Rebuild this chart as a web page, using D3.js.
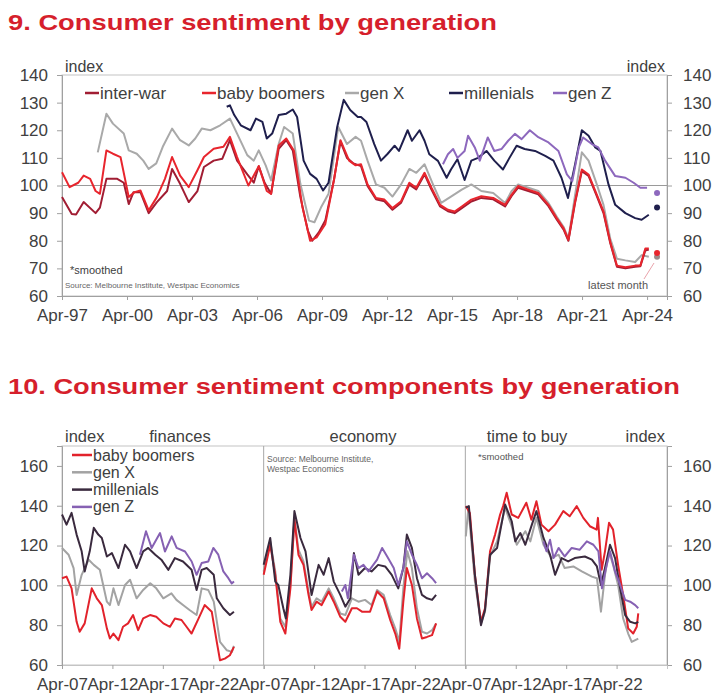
<!DOCTYPE html>
<html>
  <head>
    <meta charset="utf-8">
    <title>Consumer sentiment by generation</title>
    <script src="https://cdn.jsdelivr.net/npm/d3@7"></script>
    <style>
      body { margin: 0; background: #fff; }
      text { font-family: "Liberation Sans", Arial, sans-serif; fill: #404040; }
    </style>
  </head>
  <body>
    <svg width="720" height="697" id="mainsvg"></svg>
    <script>
      // ---------- chart 9: consumer sentiment by generation ----------
      // points are [decimal year, index]
      const topNames = ["inter-war", "baby boomers", "gen X", "millenials", "gen Z"];
      const topTickYears = [1997.25, 2000.25, 2003.25, 2006.25, 2009.25, 2012.25, 2015.25, 2018.25, 2021.25, 2024.25];
      const topTickLabels = ["Apr-97", "Apr-00", "Apr-03", "Apr-06", "Apr-09", "Apr-12", "Apr-15", "Apr-18", "Apr-21", "Apr-24"];
      const topYTicks = [60, 70, 80, 90, 100, 110, 120, 130, 140];

      const interWar = [
        [1997.25, 95.8], [1997.7, 89.7], [1997.9, 89.5], [1998.25, 94], [1998.8, 90], [1999.0, 92], [1999.3, 102.4],
        [1999.8, 102.4], [2000.1, 101], [2000.33, 93.3], [2000.55, 97.6], [2000.87, 97.6], [2001.25, 90], [2001.63, 94],
        [2002.1, 98], [2002.33, 106], [2002.7, 100.6], [2003.1, 94], [2003.5, 98], [2003.8, 106.7], [2004.25, 109],
        [2004.65, 109.7], [2005.0, 116.4], [2005.33, 109], [2005.8, 104], [2006.1, 101], [2006.33, 107], [2006.6, 101],
        [2006.9, 97], [2007.25, 113.3], [2007.6, 116.4], [2007.9, 112.7], [2008.25, 95.8], [2008.6, 83.6], [2008.8, 80],
        [2009.1, 83], [2009.4, 87.3], [2009.8, 102], [2010.1, 116], [2010.4, 110], [2010.7, 108], [2011.05, 107],
        [2011.35, 99.8], [2011.74, 95], [2012.13, 94.3], [2012.5, 91.2], [2012.9, 93.8], [2013.28, 100.3], [2013.6, 98.6],
        [2013.98, 104], [2014.3, 98.5], [2014.7, 92.4], [2015.06, 90.7], [2015.37, 90], [2015.7, 91.8], [2016.14, 94.2],
        [2016.6, 95.5], [2017.15, 95], [2017.7, 92.4], [2018.0, 96.2], [2018.3, 99.2], [2018.77, 98], [2019.23, 96.8],
        [2019.7, 92.5], [2020.08, 87.7], [2020.4, 84], [2020.62, 80], [2020.93, 93.8], [2021.24, 105.2], [2021.55, 103.5],
        [2021.93, 96.2], [2022.24, 90], [2022.55, 79.2], [2022.86, 70.6], [2023.25, 70], [2023.7, 70.6], [2023.94, 70.8],
        [2024.17, 76.5], [2024.33, 76.8]
      ];
      const babyBoomers = [
        [1997.25, 104.8], [1997.6, 99.4], [1998.0, 101], [1998.25, 103.6], [1998.55, 102.4], [1998.8, 98], [1999.0, 97],
        [1999.3, 112.7], [1999.6, 111.5], [1999.95, 110.3], [2000.33, 95.8], [2000.6, 97.6], [2000.87, 98.2], [2001.25, 91],
        [2001.63, 95.8], [2002.0, 102.4], [2002.33, 110.3], [2002.7, 103.6], [2003.1, 99.4], [2003.5, 105.5], [2003.8, 110.3],
        [2004.25, 113.3], [2004.7, 114], [2005.0, 117.6], [2005.33, 110.3], [2005.85, 100], [2006.33, 107], [2006.7, 98],
        [2006.9, 97], [2007.25, 114.5], [2007.6, 117], [2007.95, 112.7], [2008.35, 92], [2008.7, 80], [2009.0, 81.2],
        [2009.4, 86], [2009.8, 102], [2010.1, 116.4], [2010.5, 109], [2010.8, 107.3], [2011.05, 107.7], [2011.35, 100.4],
        [2011.74, 95.5], [2012.13, 94.9], [2012.5, 91.8], [2012.9, 94.3], [2013.28, 101], [2013.6, 99.2], [2013.98, 104.6],
        [2014.3, 99.2], [2014.7, 93], [2015.06, 91.2], [2015.37, 90.6], [2015.7, 92.4], [2016.14, 94.9], [2016.6, 96.1],
        [2017.15, 95.5], [2017.7, 93], [2018.0, 96.7], [2018.3, 99.8], [2018.77, 98.5], [2019.23, 97.3], [2019.7, 93],
        [2020.08, 88.2], [2020.4, 84.5], [2020.62, 80.3], [2020.93, 94.3], [2021.24, 105.8], [2021.55, 104], [2021.93, 96.7],
        [2022.24, 90.6], [2022.55, 79.6], [2022.86, 71], [2023.25, 70.4], [2023.7, 71], [2023.94, 71], [2024.17, 77.2],
        [2024.33, 77.2]
      ];
      const genX = [
        [1998.9, 112], [1999.3, 126], [1999.6, 122.4], [2000.1, 118.8], [2000.33, 112.7], [2000.7, 111.5], [2001.0, 109],
        [2001.25, 106], [2001.6, 108], [2001.9, 114], [2002.33, 120.6], [2002.7, 116.4], [2003.1, 114.5], [2003.4, 117],
        [2003.7, 120.6], [2004.1, 120], [2004.55, 121.8], [2005.0, 124.2], [2005.33, 118.8], [2005.8, 111], [2006.1, 109],
        [2006.33, 112.7], [2006.65, 107.3], [2006.9, 101.8], [2007.25, 115], [2007.5, 121.2], [2007.9, 118.8], [2008.25, 100.6],
        [2008.65, 87.3], [2008.9, 86.7], [2009.2, 92], [2009.55, 97], [2010.0, 121.2], [2010.4, 115], [2010.8, 117.6],
        [2011.05, 116.2], [2011.35, 109], [2011.74, 100.4], [2012.13, 99.2], [2012.5, 96], [2012.9, 100.4], [2013.28, 106],
        [2013.6, 104.6], [2013.98, 107.7], [2014.37, 100.4], [2014.75, 93.7], [2015.2, 96], [2015.7, 98.5], [2016.14, 100.4],
        [2016.6, 98], [2017.15, 97.3], [2017.7, 93.7], [2018.0, 98], [2018.3, 100.4], [2018.77, 99.2], [2019.23, 98],
        [2019.7, 93.7], [2020.08, 88.8], [2020.4, 85], [2020.62, 80.8], [2020.93, 96.7], [2021.24, 112], [2021.55, 109],
        [2021.93, 100.4], [2022.24, 93], [2022.55, 80.8], [2022.86, 73.5], [2023.25, 72.9], [2023.7, 72.3], [2024.0, 74.8],
        [2024.33, 74.2]
      ];
      const millenials = [
        [2004.85, 128.5], [2005.0, 129], [2005.2, 125.5], [2005.5, 121.8], [2005.95, 120], [2006.2, 124.2], [2006.5, 123],
        [2006.7, 117], [2006.95, 118.8], [2007.25, 125.5], [2007.6, 126], [2007.9, 127.5], [2008.1, 124.8], [2008.4, 109],
        [2008.7, 104.2], [2009.0, 102.4], [2009.3, 98.2], [2009.55, 101], [2009.95, 121.2], [2010.25, 131], [2010.55, 127.3],
        [2010.9, 124.8], [2011.05, 124.8], [2011.3, 123], [2011.66, 115], [2011.97, 109], [2012.28, 111.5], [2012.6, 114.4],
        [2012.8, 112.5], [2013.2, 120], [2013.4, 116.2], [2013.75, 120], [2013.98, 116.2], [2014.2, 111.3], [2014.6, 108.9],
        [2015.0, 102.8], [2015.2, 105.8], [2015.5, 109.5], [2015.83, 102], [2016.14, 109], [2016.45, 110], [2016.84, 112.5],
        [2017.2, 109], [2017.6, 105.8], [2017.9, 110], [2018.23, 114.4], [2018.6, 113.2], [2019.08, 112.5], [2019.55, 110.7],
        [2019.93, 109], [2020.3, 102.8], [2020.6, 95.5], [2020.93, 107.7], [2021.24, 120], [2021.55, 118], [2021.86, 113.8],
        [2022.1, 112.5], [2022.47, 100.4], [2022.78, 93], [2023.25, 90], [2023.7, 88.2], [2024.0, 87.6], [2024.33, 89.4]
      ];
      const genZ = [
        [2014.83, 107.7], [2015.06, 111.3], [2015.3, 113.2], [2015.5, 110], [2015.83, 112.5], [2015.99, 118], [2016.3, 113.8],
        [2016.53, 109], [2016.9, 117.4], [2017.2, 112.5], [2017.53, 113.2], [2017.84, 116.2], [2018.15, 118.7], [2018.46, 116.8],
        [2018.84, 120], [2019.23, 117.5], [2019.7, 115.6], [2020.16, 112.5], [2020.55, 104], [2020.8, 101.6], [2021.1, 113.8],
        [2021.3, 117.4], [2021.7, 115], [2022.0, 113.8], [2022.32, 108.9], [2022.78, 103.4], [2023.25, 102.8], [2023.63, 101],
        [2023.94, 99.2], [2024.25, 99.2]
      ];
      // latest month (unsmoothed) dots
      const latestYear = 2024.71;
      const latestNames = ["gen X", "baby boomers", "millenials", "gen Z"];
      const latestValues = [74.2, 75.6, 92, 97.3];

      // ---------- chart 10: components by generation ----------
      const panelNames = ["finances", "economy", "time to buy"];
      const botNames = ["baby boomers", "gen X", "millenials", "gen Z"];
      const botTickYears = [2007.25, 2012.25, 2017.25, 2022.25];
      const botTickLabels = ["Apr-07", "Apr-12", "Apr-17", "Apr-22"];
      const botYTicks = [60, 80, 100, 120, 140, 160];

      const finBB = [
        [2007.25, 103.6], [2007.7, 104.4], [2008.2, 98.5], [2008.7, 81.7], [2009.0, 76.7], [2009.5, 80.9], [2010.2, 98.5],
        [2010.7, 93.5], [2011.2, 90.1], [2011.7, 78.4], [2012.0, 73.3], [2012.35, 75.8], [2012.85, 72.5], [2013.3, 79.2],
        [2013.8, 80.9], [2014.3, 85.1], [2014.8, 77.5], [2015.3, 83.4], [2015.98, 85.1], [2016.6, 84.2], [2017.3, 80.9],
        [2017.96, 79.2], [2018.45, 83.4], [2019.1, 82.6], [2019.6, 79.2], [2020.1, 75.8], [2020.8, 83.4], [2021.4, 90.1],
        [2022.1, 86.8], [2022.6, 71.6], [2022.92, 62.4], [2023.4, 63.2], [2023.9, 64.9], [2024.3, 69.1]
      ];
      const finGX = [
        [2007.25, 118.8], [2007.9, 115.4], [2008.4, 108.7], [2008.7, 95.2], [2009.2, 105.3], [2009.9, 112.9], [2010.4, 110.3],
        [2011.0, 107.8], [2011.7, 91.8], [2012.0, 90.1], [2012.35, 98.5], [2012.85, 90.1], [2013.5, 100.2], [2014.0, 102.8],
        [2014.65, 93.5], [2015.3, 97.7], [2016.0, 101.1], [2016.6, 98.5], [2017.3, 93.5], [2018.1, 96], [2018.6, 92.7],
        [2019.25, 90.1], [2019.9, 87.6], [2020.6, 85.1], [2021.1, 98.5], [2021.75, 97.7], [2022.3, 91.8], [2022.92, 71.6],
        [2023.6, 67.4], [2024.1, 66.6], [2024.3, 69.6]
      ];
      const finMil = [
        [2007.25, 135.6], [2007.7, 130.5], [2008.2, 136.4], [2008.7, 125.5], [2009.2, 117.1], [2009.5, 107], [2010.0, 117.1],
        [2010.4, 128.9], [2010.85, 125.5], [2011.2, 123.8], [2011.7, 114.5], [2012.2, 116.2], [2012.85, 108.7], [2013.5, 120.4],
        [2014.0, 117.1], [2014.65, 108.7], [2015.3, 117.1], [2015.8, 118.8], [2016.5, 115.4], [2017.1, 112.9], [2017.8, 107.8],
        [2018.45, 113.7], [2019.25, 112], [2020.1, 107.8], [2020.6, 97.7], [2021.1, 107.8], [2021.6, 108.7], [2022.3, 105.3],
        [2022.6, 93.5], [2023.25, 88.5], [2023.9, 85.1], [2024.3, 86.8]
      ];
      const finGZ = [
        [2014.98, 115.4], [2015.58, 127.2], [2016.14, 118.8], [2016.97, 126.3], [2017.46, 117], [2018.13, 124.6],
        [2018.62, 118.8], [2019.45, 117], [2020.11, 112], [2020.6, 105.3], [2021.1, 111.2], [2021.76, 112], [2022.26, 118.8],
        [2022.75, 115.4], [2023.25, 107], [2023.75, 103.6], [2024.08, 101], [2024.31, 101.9]
      ];
      const ecoBB = [
        [2007.25, 105.3], [2007.9, 120.4], [2008.4, 105.3], [2008.9, 81.7], [2009.4, 75.8], [2009.9, 98.5], [2010.3, 133],
        [2010.7, 115.4], [2011.2, 110.3], [2011.7, 95.2], [2012.0, 87.6], [2012.5, 91.8], [2013.0, 90.1], [2013.7, 96.9],
        [2014.2, 91.8], [2014.85, 84.2], [2015.35, 81.7], [2016.0, 88.5], [2016.5, 88.5], [2017.0, 86.8], [2017.8, 86.8],
        [2018.5, 96.9], [2019.15, 93.5], [2019.8, 82.6], [2020.3, 75.8], [2020.7, 68.2], [2021.1, 91.8], [2021.45, 108.7],
        [2021.95, 100.2], [2022.45, 83.4], [2022.95, 73.3], [2023.45, 74.1], [2023.95, 75], [2024.35, 80.9]
      ];
      const ecoGX = [
        [2007.25, 107], [2007.9, 122.1], [2008.4, 107], [2008.9, 83.4], [2009.4, 79.2], [2009.9, 100.2], [2010.3, 133.9],
        [2010.7, 117.9], [2011.2, 112], [2011.7, 96.9], [2012.0, 89.3], [2012.5, 93.5], [2013.0, 91.8], [2013.7, 98.5],
        [2014.2, 93.5], [2014.85, 85.9], [2015.35, 85.1], [2016.0, 93.5], [2016.65, 91.8], [2017.3, 92.7], [2017.95, 90.1],
        [2018.5, 97.7], [2019.15, 95.2], [2019.8, 85.1], [2020.3, 78.4], [2020.7, 71.6], [2021.1, 98.5], [2021.5, 117.1],
        [2021.95, 108.7], [2022.45, 88.5], [2022.95, 76.7], [2023.45, 75.8], [2023.95, 77.5], [2024.35, 80.9]
      ];
      const ecoMil = [
        [2007.25, 110.3], [2007.9, 123.8], [2008.4, 101.9], [2008.7, 100.2], [2009.2, 88.5], [2009.45, 83.4], [2009.9, 105.3],
        [2010.3, 137.3], [2010.9, 123.8], [2011.4, 117.1], [2012.0, 95.2], [2012.7, 110.3], [2013.2, 105.3], [2013.7, 113.7],
        [2014.2, 101.9], [2014.85, 95.2], [2015.35, 89.3], [2015.85, 93.5], [2016.2, 116.2], [2016.65, 105.3], [2017.3, 108.7],
        [2017.95, 107], [2018.6, 110.3], [2019.3, 109.5], [2019.95, 105.3], [2020.6, 98.5], [2021.1, 108.7], [2021.45, 125.5],
        [2021.95, 118.8], [2022.45, 103.6], [2022.95, 95.2], [2023.45, 93.5], [2023.95, 92.7], [2024.35, 95.2]
      ];
      const ecoGZ = [
        [2015.0, 96.9], [2015.35, 100.2], [2015.6, 93.5], [2016.2, 115.4], [2016.65, 108.7], [2017.15, 110.3], [2017.65, 107],
        [2018.5, 112.9], [2019.0, 118.8], [2019.5, 114.5], [2020.15, 108.7], [2020.6, 100.2], [2021.1, 108.7], [2021.45, 122.1],
        [2021.95, 115.4], [2022.45, 110.3], [2022.95, 103.6], [2023.45, 106.1], [2023.95, 103.6], [2024.35, 101.1]
      ];
      const buyBB = [
        [2007.3, 139.8], [2007.7, 136.4], [2008.2, 105.3], [2008.8, 81.7], [2009.2, 88.5], [2009.7, 117.1], [2010.2, 125.5],
        [2010.7, 135.6], [2011.0, 139.8], [2011.35, 146.5], [2011.85, 135.6], [2012.5, 133.9], [2013.3, 141.5], [2013.8, 133],
        [2014.3, 142.3], [2014.8, 130.5], [2015.5, 127.2], [2016.15, 130.5], [2016.97, 137.3], [2017.6, 134.7], [2018.3, 139.8],
        [2018.95, 133.9], [2019.6, 129.7], [2020.27, 128], [2020.4, 133.9], [2020.77, 107.8], [2021.1, 117.1], [2021.5, 131.4],
        [2021.9, 128], [2022.4, 110.3], [2022.9, 95.2], [2023.4, 78.4], [2023.9, 75.8], [2024.25, 79.2], [2024.4, 85.9]
      ];
      const buyGX = [
        [2007.3, 124.6], [2007.55, 139], [2008.2, 101.9], [2008.8, 80.9], [2009.2, 86.8], [2009.7, 114.5], [2010.4, 122.1],
        [2011.2, 139], [2011.85, 129.7], [2012.35, 120.4], [2013.2, 127.2], [2013.7, 122.1], [2014.3, 133.9], [2015.0, 120.4],
        [2015.8, 113.7], [2016.5, 115.4], [2017.1, 108.7], [2017.96, 109.5], [2018.8, 107], [2019.8, 104.4], [2020.3, 103.6],
        [2020.7, 86.8], [2021.1, 105.3], [2021.5, 117.1], [2021.9, 110.3], [2022.4, 100.2], [2022.9, 83.4], [2023.4, 75.8],
        [2023.75, 71.6], [2024.1, 72.5], [2024.4, 73.3]
      ];
      const buyMil = [
        [2007.3, 139], [2007.6, 139.8], [2008.2, 105.3], [2008.8, 80], [2009.2, 87.6], [2009.7, 115.4], [2010.4, 118.8],
        [2011.2, 140.6], [2011.85, 132.2], [2012.2, 122.1], [2012.7, 126.3], [2013.2, 120.4], [2013.85, 130.5], [2014.3, 137.3],
        [2015.0, 123.8], [2015.65, 115.4], [2016.15, 105.3], [2016.8, 113.7], [2017.45, 112], [2018.1, 113.7], [2019.1, 114.5],
        [2019.8, 112.9], [2020.3, 109.5], [2020.7, 100.2], [2021.1, 108.7], [2021.6, 120.4], [2022.1, 113.7], [2022.6, 98.5],
        [2023.1, 85.1], [2023.6, 81.7], [2024.1, 80.9], [2024.4, 81.7]
      ];
      const buyGZ = [
        [2015.0, 122.1], [2015.3, 117.1], [2015.65, 122.9], [2016.0, 113.7], [2016.5, 118.8], [2017.1, 114.5], [2017.8, 118.8],
        [2018.6, 117.9], [2019.3, 122.1], [2019.95, 120.4], [2020.45, 117.1], [2020.8, 98.5], [2021.2, 108.7], [2021.6, 117.1],
        [2022.1, 107], [2022.6, 100.2], [2023.1, 92.7], [2023.6, 91.8], [2024.1, 90.1], [2024.4, 88.5]
      ];

      const topColors = { "inter-war": "#a11d33", "baby boomers": "#e8252d", "gen X": "#a9a9a9", "millenials": "#1f1f4d", "gen Z": "#8d68bd" };
      const botColors = { "baby boomers": "#e2222b", "gen X": "#a3a3a3", "millenials": "#3a2a3e", "gen Z": "#8661b3" };
      const axisColor = "#a0a0a0";

      const svg = d3.select("#mainsvg");
      svg.append("rect").attr("width", 720).attr("height", 697).attr("fill", "#fff");

      const line = (x, y) => d3.line().x((d) => x(d[0])).y((d) => y(d[1]));

      function styleAxis(sel) {
        sel.select(".domain").attr("stroke", axisColor);
        sel.selectAll(".tick line").attr("stroke", axisColor);
        sel.selectAll(".tick text").attr("fill", "#404040").attr("font-size", "17px")
          .attr("font-family", '"Liberation Sans", Arial, sans-serif');
      }

      // ===== titles =====
      svg.append("text").text("9. Consumer sentiment by generation")
        .attr("x", 8).attr("y", 30).attr("font-size", "22px").attr("font-weight", "bold")
        .attr("font-family", '"Open Sans", sans-serif').style("fill", "#d61f2c")
        .attr("textLength", 489).attr("lengthAdjust", "spacingAndGlyphs");
      svg.append("text").text("10. Consumer sentiment components by generation")
        .attr("x", 8).attr("y", 394).attr("font-size", "22px").attr("font-weight", "bold")
        .attr("font-family", '"Open Sans", sans-serif').style("fill", "#d61f2c")
        .attr("textLength", 672).attr("lengthAdjust", "spacingAndGlyphs");

      // ===== chart 9 =====
      const topBox = { left: 62, right: 667, top: 75, bottom: 296 };
      const xTop = d3.scaleLinear().domain([1997.25, 2025.17]).range([topBox.left, topBox.right]);
      const yTop = d3.scaleLinear().domain([60, 140]).range([topBox.bottom, topBox.top]);
      const g1 = svg.append("g");

      g1.append("rect").attr("x", topBox.left).attr("y", topBox.top)
        .attr("width", topBox.right - topBox.left).attr("height", topBox.bottom - topBox.top)
        .attr("fill", "none").attr("stroke", "#c4c4c4");
      g1.append("line").attr("x1", topBox.left).attr("x2", topBox.right)
        .attr("y1", yTop(100)).attr("y2", yTop(100)).attr("stroke", "#9a9a9a");

      g1.append("g").attr("transform", `translate(${topBox.left},0)`)
        .call(d3.axisLeft(yTop).tickValues(topYTicks).tickSize(5).tickPadding(9)).call(styleAxis);
      g1.append("g").attr("transform", `translate(${topBox.right},0)`)
        .call(d3.axisRight(yTop).tickValues(topYTicks).tickSize(5).tickPadding(11)).call(styleAxis);
      g1.append("g").attr("transform", `translate(0,${topBox.bottom})`)
        .call(d3.axisBottom(xTop).tickValues(topTickYears).tickSize(4).tickPadding(9)
          .tickFormat((d, i) => topTickLabels[i])).call(styleAxis);

      const topData = { "inter-war": interWar, "baby boomers": babyBoomers, "gen X": genX, "millenials": millenials, "gen Z": genZ };
      ["gen X", "inter-war", "baby boomers", "millenials", "gen Z"].forEach((name) => {
        g1.append("path").datum(topData[name]).attr("d", line(xTop, yTop))
          .attr("fill", "none").attr("stroke", topColors[name]).attr("stroke-width", 2)
          .attr("stroke-linejoin", "round");
      });

      latestNames.forEach((name, i) => {
        g1.append("circle").attr("cx", xTop(latestYear)).attr("cy", yTop(latestValues[i]))
          .attr("r", 3).attr("fill", name === "gen X" ? "#9b8a8a" : topColors[name]);
      });
      g1.append("line").attr("x1", 644).attr("y1", 279).attr("x2", 654).attr("y2", 263)
        .attr("stroke", "#e9a3ab").attr("stroke-width", 1);

      // legend
      const topLegendX = [85, 202, 345, 449, 553];
      topNames.forEach((name, i) => {
        g1.append("line").attr("x1", topLegendX[i]).attr("x2", topLegendX[i] + 14)
          .attr("y1", 93).attr("y2", 93).attr("stroke", topColors[name]).attr("stroke-width", 2.5);
        g1.append("text").text(name).attr("x", topLegendX[i] + 15).attr("y", 99).attr("font-size", "17px");
      });

      g1.append("text").text("index").attr("x", 65).attr("y", 72).attr("font-size", "16px");
      g1.append("text").text("index").attr("x", 665).attr("y", 72).attr("font-size", "16px").attr("text-anchor", "end");
      g1.append("text").text("*smoothed").attr("x", 70).attr("y", 274).attr("font-size", "11px");
      g1.append("text").text("Source: Melbourne Institute, Westpac Economics").attr("x", 65).attr("y", 288)
        .attr("font-size", "8px").style("fill", "#666");
      g1.append("text").text("latest month").attr("x", 648).attr("y", 289).attr("font-size", "11px")
        .attr("text-anchor", "end").style("fill", "#555");

      // ===== chart 10 =====
      const botBox = { left: 62, right: 667, top: 446, bottom: 665 };
      const panelW = (botBox.right - botBox.left) / 3;
      const yBot = d3.scaleLinear().domain([60, 170]).range([botBox.bottom, botBox.top]);
      const g2 = svg.append("g");

      g2.append("rect").attr("x", botBox.left).attr("y", botBox.top)
        .attr("width", botBox.right - botBox.left).attr("height", botBox.bottom - botBox.top)
        .attr("fill", "none").attr("stroke", "#c4c4c4");
      g2.append("line").attr("x1", botBox.left).attr("x2", botBox.right)
        .attr("y1", yBot(100)).attr("y2", yBot(100)).attr("stroke", "#9a9a9a");

      g2.append("g").attr("transform", `translate(${botBox.left},0)`)
        .call(d3.axisLeft(yBot).tickValues(botYTicks).tickSize(5).tickPadding(9)).call(styleAxis);
      g2.append("g").attr("transform", `translate(${botBox.right},0)`)
        .call(d3.axisRight(yBot).tickValues(botYTicks).tickSize(5).tickPadding(11)).call(styleAxis);

      const panelData = [
        [finBB, finGX, finMil, finGZ],
        [ecoBB, ecoGX, ecoMil, ecoGZ],
        [buyBB, buyGX, buyMil, buyGZ]
      ];
      const drawOrder = [1, 0, 2, 3];
      panelNames.forEach((pname, p) => {
        const x0 = botBox.left + p * panelW;
        const xp = d3.scaleLinear().domain([2007.25, 2027.25]).range([x0, x0 + panelW]);
        if (p > 0) {
          g2.append("line").attr("x1", x0).attr("x2", x0).attr("y1", botBox.top).attr("y2", botBox.bottom)
            .attr("stroke", "#a8a8a8");
        }
        g2.append("g").attr("transform", `translate(0,${botBox.bottom})`)
          .call(d3.axisBottom(xp).tickValues(botTickYears).tickSize(4).tickPadding(9)
            .tickFormat((d, i) => botTickLabels[i])).call(styleAxis)
          .call((s) => s.select(".domain").attr("stroke", "#c4c4c4"));
        drawOrder.forEach((k) => {
          g2.append("path").datum(panelData[p][k]).attr("d", line(xp, yBot))
            .attr("fill", "none").attr("stroke", botColors[botNames[k]]).attr("stroke-width", 2)
            .attr("stroke-linejoin", "round");
        });
      });

      const panelTitleX = [180, 363, 527];
      panelNames.forEach((pname, p) => {
        g2.append("text").text(pname).attr("x", panelTitleX[p]).attr("y", 442)
          .attr("font-size", "16.5px").attr("text-anchor", "middle");
      });
      g2.append("text").text("index").attr("x", 65).attr("y", 442).attr("font-size", "16.5px");
      g2.append("text").text("index").attr("x", 665).attr("y", 442).attr("font-size", "16.5px").attr("text-anchor", "end");

      botNames.forEach((name, i) => {
        const yy = 455 + i * 17.3;
        g2.append("line").attr("x1", 72).attr("x2", 92).attr("y1", yy).attr("y2", yy)
          .attr("stroke", botColors[name]).attr("stroke-width", 2.5);
        g2.append("text").text(name).attr("x", 93).attr("y", yy + 5.5).attr("font-size", "16px");
      });

      g2.append("text").text("Source: Melbourne Institute,").attr("x", 267).attr("y", 462)
        .attr("font-size", "8.5px").style("fill", "#666");
      g2.append("text").text("Westpac Economics").attr("x", 267).attr("y", 472)
        .attr("font-size", "8.5px").style("fill", "#666");
      g2.append("text").text("*smoothed").attr("x", 478).attr("y", 460)
        .attr("font-size", "9.5px").style("fill", "#555");
    </script>
  </body>
</html>
